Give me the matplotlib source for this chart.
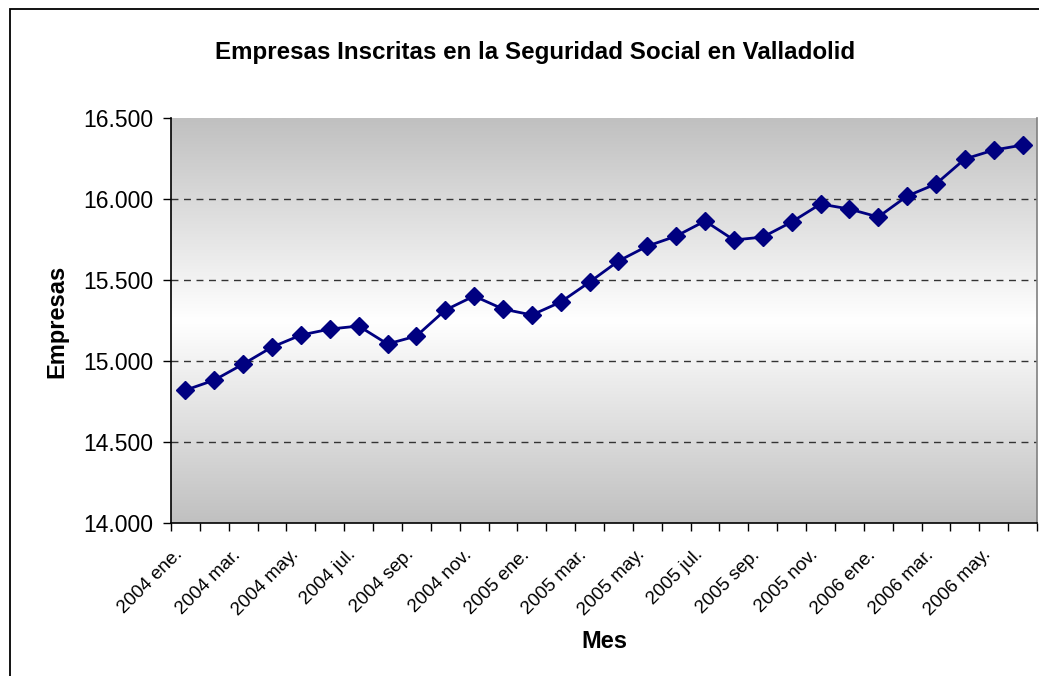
import numpy as np
import matplotlib
matplotlib.use("Agg")
import matplotlib.pyplot as plt
import matplotlib.transforms as mtransforms
from matplotlib.patches import Rectangle
from matplotlib.ticker import FuncFormatter, FixedLocator

plt.rcParams['font.family'] = ['Liberation Sans', 'DejaVu Sans']

months = ["ene.", "feb.", "mar.", "abr.", "may.", "jun.", "jul.", "ago.", "sep.", "oct.", "nov.", "dic."]
categories = [f"{y} {m}" for y in (2004, 2005) for m in months] + [f"2006 {m}" for m in months[:6]]
empresas = [14820, 14882, 14981, 15086, 15160, 15197, 15216, 15105, 15154, 15314,
            15401, 15321, 15284, 15364, 15487, 15617, 15709, 15771, 15864, 15747,
            15765, 15858, 15969, 15938, 15889, 16018, 16093, 16247, 16302, 16333]
y_ticks = [14000, 14500, 15000, 15500, 16000, 16500]

W, H = 1039, 676
fig = plt.figure(figsize=(W / 100, H / 100), dpi=100)
fig.patch.set_facecolor('white')

# outer chart border (left and top visible)
fig.add_artist(Rectangle((9.5 / W, -0.05), 1.2, 1.05 - 9.5 / H, transform=fig.transFigure,
                         fill=False, edgecolor='black', linewidth=1.3))

ax = fig.add_axes([171 / W, 1 - 523 / H, (1037 - 171) / W, (523 - 118) / H])

# gradient background: gray - white - gray
t = np.linspace(0, 1, 400)
v = 1 - np.abs(t - 0.5) * 2
grey = 0xC0 / 255
col = grey + (1 - grey) * v
img = np.dstack([col, col, col]).reshape(400, 1, 3)
ax.imshow(img, extent=[0, 1, 0, 1], transform=ax.transAxes, aspect='auto', zorder=0,
          interpolation='bilinear')

x = np.arange(len(categories))
ax.plot(x, empresas, color='#000080', linewidth=2, marker='D', markersize=9,
        markerfacecolor='#000080', markeredgecolor='#000080', zorder=3)

ax.set_xlim(-0.5, len(categories) - 0.5)
ax.set_ylim(14000, 16500)
ax.set_yticks(y_ticks)
ax.yaxis.set_major_formatter(FuncFormatter(lambda v, p: f"{int(v):,}".replace(",", ".")))
for yv in y_ticks[1:-1]:
    ax.axhline(yv, color='#333333', linestyle=(0, (5, 4)), linewidth=1, zorder=1)

# x ticks at category boundaries, labels every 2 categories
ax.xaxis.set_major_locator(FixedLocator(np.arange(-0.5, len(categories), 1)))
ax.xaxis.set_major_formatter(FuncFormatter(lambda v, p: ""))
ax.xaxis.set_minor_locator(FixedLocator(x[::2]))
ax.set_xticklabels([categories[i] for i in x[::2]], minor=True)
ax.tick_params(axis='x', which='minor', length=0, pad=21, labelsize=13.5)
ax.tick_params(axis='x', which='major', length=6, width=1, direction='out')
ax.tick_params(axis='y', length=6, width=1, labelsize=16.5, pad=7)
shift = mtransforms.ScaledTranslation(-5 / 100, 0, fig.dpi_scale_trans)
for lbl in ax.get_xticklabels(minor=True):
    lbl.set_rotation(45)
    lbl.set_ha('right')
    lbl.set_va('center')
    lbl.set_rotation_mode('anchor')
    lbl.set_transform(lbl.get_transform() + shift)

for s in ['left', 'bottom']:
    ax.spines[s].set_color('black')
    ax.spines[s].set_linewidth(1.2)
ax.spines['top'].set_visible(False)
ax.spines['right'].set_color('#808080')
ax.spines['right'].set_linewidth(1.2)

fig.text(57 / W, 1 - 321 / H, 'Empresas', fontsize=17, fontweight='bold', ha='center', va='center',
         rotation=90)
fig.text(604 / W, 1 - 641 / H, 'Mes', fontsize=17, fontweight='bold', ha='center', va='center')
fig.text(535 / W, 1 - 53 / H, 'Empresas Inscritas en la Seguridad Social en Valladolid',
         fontsize=17.4, fontweight='bold', ha='center', va='center')

fig.savefig('out.png', dpi=100)
